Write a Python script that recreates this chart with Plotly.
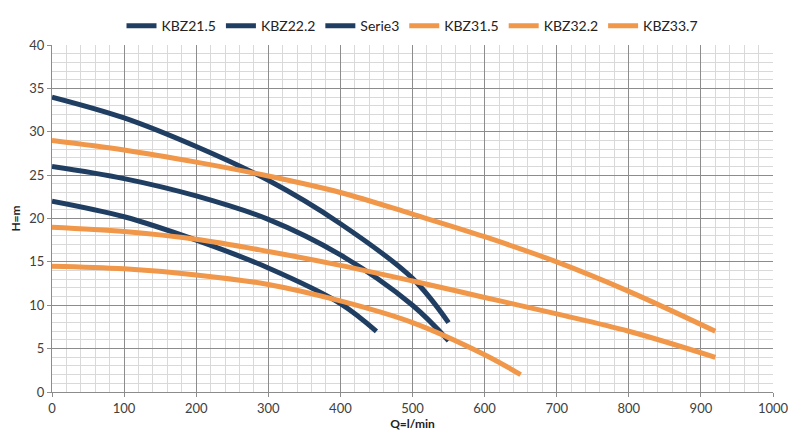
import plotly.graph_objects as go

q_21 = [0, 100, 200, 300, 400, 450]
h_21 = [22, 20.2, 17.5, 14.3, 10.2, 7]
q_22 = [0, 100, 200, 300, 400, 500, 550]
h_22 = [26, 24.6, 22.6, 19.9, 15.8, 10.0, 5.9]
q_s3 = [0, 100, 200, 300, 400, 500, 550]
h_s3 = [34, 31.6, 28.3, 24.4, 19.4, 13.1, 8]
q_31 = [0, 100, 200, 300, 400, 500, 600, 650]
h_31 = [14.5, 14.2, 13.5, 12.4, 10.5, 8, 4.3, 2]
q_32 = [0, 100, 200, 300, 400, 500, 600, 700, 800, 920]
h_32 = [19, 18.5, 17.6, 16.2, 14.6, 12.8, 10.9, 9, 7, 4]
q_33 = [0, 100, 200, 300, 400, 500, 600, 700, 800, 920]
h_33 = [29, 27.9, 26.5, 24.9, 23, 20.5, 17.9, 15, 11.6, 7]

names = ["KBZ21.5", "KBZ22.2", "Serie3", "KBZ31.5", "KBZ32.2", "KBZ33.7"]
NAVY = "#203E62"
ORANGE = "#F0974A"
colors = [NAVY, NAVY, NAVY, ORANGE, ORANGE, ORANGE]
series = [(q_21, h_21), (q_22, h_22), (q_s3, h_s3), (q_31, h_31), (q_32, h_32), (q_33, h_33)]

fig = go.Figure()
for n, c, (q, h) in zip(names, colors, series):
    fig.add_trace(go.Scatter(x=q, y=h, name=n, mode="lines",
                             line=dict(color=c, width=5, shape="spline", smoothing=1.0)))

font = "Lato"
fig.update_layout(
    width=793, height=427,
    margin=dict(l=44, r=28, t=37, b=43),
    paper_bgcolor="white", plot_bgcolor="white",
    font=dict(family=font, size=13, color="#404040"),
    showlegend=True,
    legend=dict(orientation="h", x=0.5, xanchor="center", y=0.995, yanchor="top",
                yref="container", font=dict(size=14, color="#222"),
                itemwidth=30, tracegroupgap=0),
    xaxis=dict(range=[0, 1000], dtick=100, showgrid=True, gridcolor="#8c8c8c", gridwidth=1,
               minor=dict(dtick=20, showgrid=True, gridcolor="#d9d9d9", gridwidth=1, ticks=""),
               zeroline=False, showline=True, linecolor="#8c8c8c", automargin=False,
               ticks="outside", ticklen=4, tickcolor="#8c8c8c",
               title=dict(text="<b>Q=l/min</b>", standoff=5, font=dict(size=12, color="#222"))),
    yaxis=dict(range=[0, 40], dtick=5, showgrid=True, gridcolor="#8c8c8c", gridwidth=1,
               minor=dict(dtick=1, showgrid=True, gridcolor="#d9d9d9", gridwidth=1, ticks=""),
               zeroline=False, showline=True, linecolor="#8c8c8c", automargin=False,
               ticks="outside", ticklen=4, tickcolor="#8c8c8c",
               title=dict(text="<b>H=m</b>", standoff=12, font=dict(size=12, color="#222"))),
)
fig.write_html("out.html")
